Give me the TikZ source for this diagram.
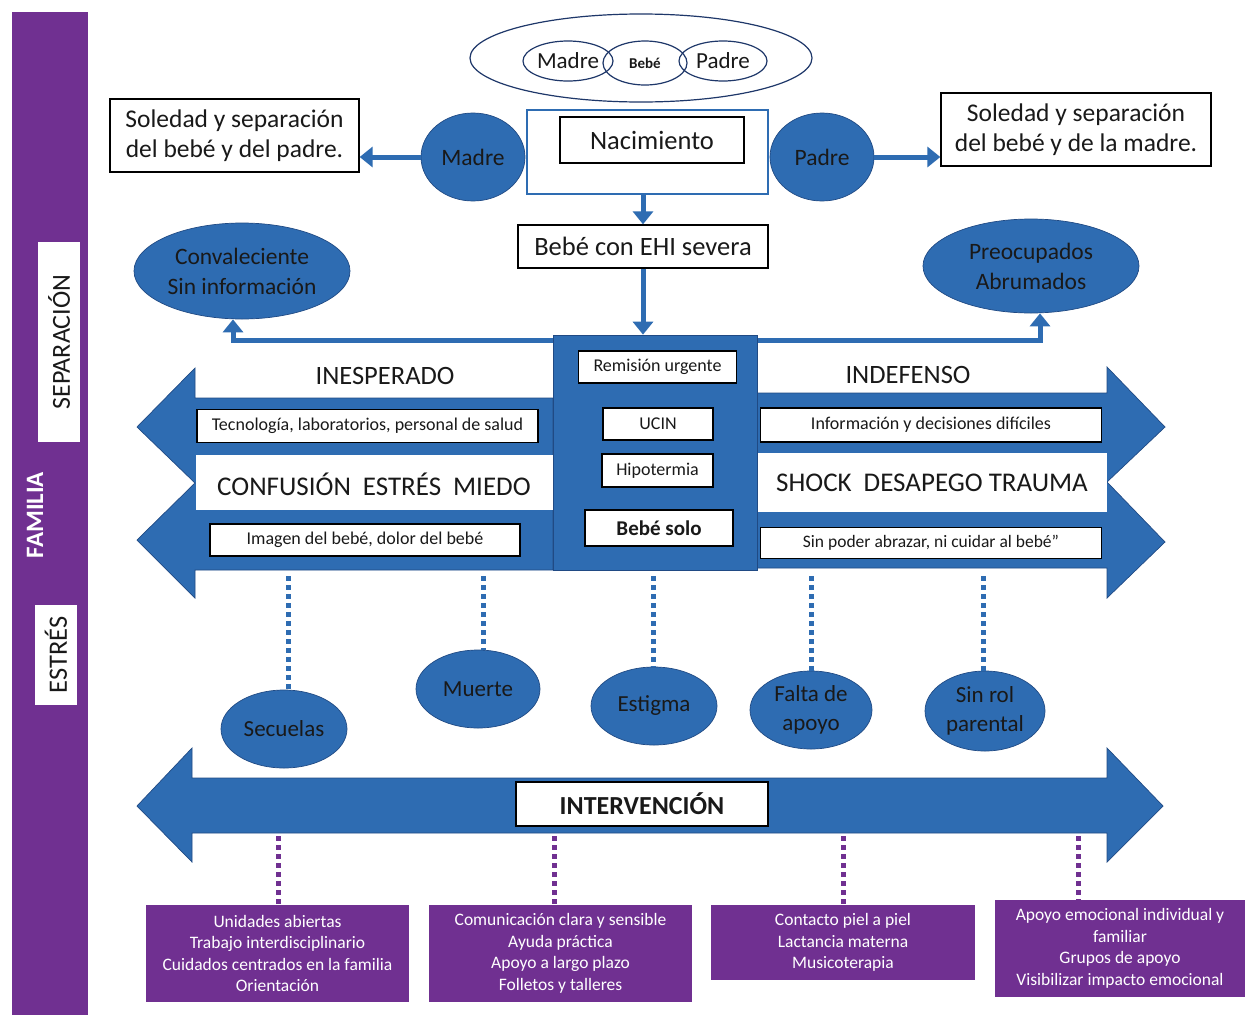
\documentclass[tikz,border=0pt]{standalone}
\usepackage{fontspec}
\setmainfont{Carlito}
\usetikzlibrary{shapes.geometric,arrows.meta}
\definecolor{bl}{RGB}{46,108,178}
\definecolor{bd}{RGB}{32,74,132}
\definecolor{nv}{RGB}{30,55,105}
\definecolor{pu}{RGB}{112,48,145}
\definecolor{tx}{RGB}{25,25,25}
\newcommand{\fs}[2]{\fontsize{#1}{#2}\selectfont}
\tikzset{
  wbox/.style={draw=black, line width=1.3pt, fill=white, text=tx, inner sep=0pt, align=center},
  bell/.style={ellipse, fill=bl, draw=bd, line width=0.7pt, text=tx, align=center, inner sep=0pt},
  oell/.style={ellipse, draw=nv, line width=1.2pt, text=tx, inner sep=0pt},
  barrow/.style={draw=bl, line width=5pt, -{Triangle[length=13pt,width=20pt]}},
  bdots/.style={draw=bl, line width=5pt, dash pattern=on 5pt off 4pt},
  pdots/.style={draw=pu, line width=5pt, dash pattern=on 5pt off 4pt},
  pbox/.style={fill=pu, text=white, align=center, inner sep=0pt, font=\fs{17.5}{21.6}},
  plain/.style={text=tx, inner sep=0pt, align=center},
  blshape/.style={fill=bl, draw=bd, line width=0.7pt}
}
\begin{document}
\begin{tikzpicture}[x=1pt,y=-1pt]
\useasboundingbox[fill=white] (0,0) rectangle (1252,1015);

% left family bar
\node[fill=pu, minimum width=76, minimum height=1003, anchor=north west, inner sep=0pt] (bar) at (12,12) {};
\node[fill=white, rotate=90, minimum width=200, minimum height=42, inner sep=0pt, text=tx, font=\fs{26}{30}] (sep) at (59,342) {SEPARACIÓN};
\node[rotate=90, text=white, font=\bfseries\fs{25}{29}, inner sep=0pt] (famlab) at (35,515) {FAMILIA};
\node[fill=white, rotate=90, minimum width=100, minimum height=42, inner sep=0pt, text=tx, font=\fs{26.5}{30}] (est) at (56,655) {ESTRÉS};

% top family ellipse
\node[oell, minimum width=342, minimum height=88] (fam) at (641,58) {};
\node[oell, minimum width=90, minimum height=40, font=\fs{23}{26}] (emad) at (568,61) {Madre};
\node[oell, minimum width=84, minimum height=44, font=\bfseries\fs{15}{17}] (ebebe) at (645,63) {Bebé};
\node[oell, minimum width=88, minimum height=40, font=\fs{23}{26}] (epad) at (723,61) {Padre};

% birth
\node[draw=bl, line width=1.3pt, fill=white, minimum width=241, minimum height=84, inner sep=0pt] (nacout) at (647.5,152) {};
\node[wbox, minimum width=184, minimum height=46, font=\fs{26.5}{30}] (nac) at (652,140) {Nacimiento};
\node[bell, minimum width=104, minimum height=88, font=\fs{23.5}{27}] (madre) at (473,157) {Madre};
\node[bell, minimum width=104, minimum height=88, font=\fs{23.5}{27}] (padre) at (822,157) {Padre};
\node[wbox, minimum width=249, minimum height=73, font=\fs{25.5}{30}] (sl) at (234.5,135.5) {Soledad y separación\\del bebé y del padre.};
\node[wbox, minimum width=270, minimum height=73, font=\fs{25.5}{30}] (sr) at (1076,129.5) {Soledad y separación\\del bebé y de la madre.};
\draw[barrow] (madre.west) -- (madre.west -| sl.east);
\draw[barrow] (padre.east) -- (padre.east -| sr.west);

\node[wbox, minimum width=250, minimum height=43, font=\fs{26.5}{30}] (bebe) at (643,246.5) {Bebé con EHI severa};
\draw[barrow] (bebe.north |- nacout.south) -- (bebe.north);

% parents state
\node[bell, minimum width=216, minimum height=96, font=\fs{23.5}{30}] (conv) at (242,271) {Convaleciente\\Sin información};
\node[bell, minimum width=216, minimum height=94, font=\fs{23.5}{30}] (preo) at (1031,266) {Preocupados\\Abrumados};
\coordinate (hub) at (643,340);
\draw[barrow] (hub) -| ([xshift=-9pt]conv.south);
\draw[barrow] (hub) -| ([xshift=9pt]preo.south);

% left double arrow
\fill[blshape] (553,398) -- (195,398) -- (195,368) -- (137,427) -- (195,483) -- (137,540) -- (195,598) -- (195,570) -- (553,570) -- cycle;
\fill[white] (195.5,455) rectangle (553,510);
% right double arrow
\fill[blshape] (757,393) -- (1107,393) -- (1107,367) -- (1165,427) -- (1107,482) -- (1165,542) -- (1107,598) -- (1107,568) -- (757,568) -- cycle;
\fill[white] (757,453) rectangle (1106.5,512);

% central box
\node[fill=bl, draw=bd, line width=0.7pt, minimum width=204, minimum height=235, inner sep=0pt] (cbox) at (655,452.5) {};
\draw[barrow] (bebe.south) -- (bebe.south |- cbox.north);
\node[wbox, minimum width=158, minimum height=32, font=\fs{18}{21}] (remi) at (657.5,367) {Remisión urgente};
\node[wbox, minimum width=110, minimum height=32, font=\fs{18}{21}] (ucin) at (658,424) {UCIN};
\node[wbox, minimum width=111, minimum height=33, font=\fs{18}{21}] (hipo) at (657.5,470.5) {Hipotermia};
\node[wbox, minimum width=148, minimum height=36, font=\bfseries\fs{21}{24}] (solo) at (659,528) {Bebé solo};

% left texts
\node[plain, font=\fs{26.5}{30}] (inesp) at (385,376) {INESPERADO};
\node[wbox, minimum width=341, minimum height=33, font=\fs{18}{21}] (tec) at (367.5,426) {Tecnología, laboratorios, personal de salud};
\node[plain, font=\fs{27}{31}] (conf) at (374,484) {CONFUSIÓN\hspace{12pt}ESTRÉS\hspace{12pt}MIEDO};
\node[wbox, minimum width=310, minimum height=32, font=\fs{18}{21}] (imag) at (365,540) {Imagen del bebé, dolor del bebé};
% right texts
\node[plain, font=\fs{26.5}{30}] (indef) at (908,375) {INDEFENSO};
\node[wbox, minimum width=341, minimum height=34, font=\fs{18}{21}] (info) at (931,425) {Información y decisiones difíciles};
\node[plain, font=\fs{27}{31}] (shock) at (932,483) {SHOCK\hspace{12pt}DESAPEGO\hspace{6pt}TRAUMA};
\node[wbox, minimum width=341, minimum height=31, font=\fs{17.5}{21}] (sinp) at (931,543) {Sin poder abrazar, ni cuidar al bebé"};

% consequences
\node[bell, minimum width=126, minimum height=78, font=\fs{23}{27}] (secu) at (284,729) {Secuelas};
\node[bell, minimum width=124, minimum height=78, font=\fs{23}{27}] (muer) at (478,689) {Muerte};
\node[bell, minimum width=126, minimum height=78, font=\fs{23}{27}] (estig) at (654,706) {Estigma};
\node[bell, minimum width=122, minimum height=78, font=\fs{23}{29.5}] (falta) at (811,710) {Falta de\\apoyo};
\node[bell, minimum width=120, minimum height=80, font=\fs{23}{29.5}] (sinrol) at (985,711) {Sin rol\\parental};
\coordinate (d1) at (288,576);
\coordinate (d2) at (483,576);
\coordinate (d3) at (653,576);
\coordinate (d4) at (811,576);
\coordinate (d5) at (983,576);
\draw[bdots] (d1) -- (d1 |- secu.north);
\draw[bdots] (d2) -- (d2 |- muer.north);
\draw[bdots] (d3) -- (d3 |- estig.north);
\draw[bdots] (d4) -- (d4 |- falta.north);
\draw[bdots] (d5) -- (d5 |- sinrol.north);

% intervention arrow
\fill[blshape] (192,778) -- (1107,778) -- (1107,748) -- (1163,806) -- (1107,862) -- (1107,833) -- (192,833) -- (192,862) -- (137,806) -- (192,748) -- cycle;
\node[wbox, minimum width=252, minimum height=44, font=\bfseries\fs{26}{30}] (interv) at (642,804) {INTERVENCIÓN};

% intervention boxes
\node[pbox, minimum width=263, minimum height=97] (p1) at (277.5,953.5) {Unidades abiertas\\Trabajo interdisciplinario\\Cuidados centrados en la familia\\Orientación};
\node[pbox, minimum width=263, minimum height=97] (p2) at (560.5,953.5) {Comunicación clara y sensible\\Ayuda práctica\\Apoyo a largo plazo\\Folletos y talleres};
\node[pbox, minimum width=264, minimum height=75] (p3) at (843,942.5) {Contacto piel a piel\\Lactancia materna\\Musicoterapia};
\node[pbox, minimum width=250, minimum height=97] (p4) at (1120,948.5) {Apoyo emocional individual y\\familiar\\Grupos de apoyo\\Visibilizar impacto emocional};
\coordinate (q1) at (278,836);
\coordinate (q2) at (554,836);
\coordinate (q3) at (843,836);
\coordinate (q4) at (1078,836);
\draw[pdots] (q1) -- (q1 |- p1.north);
\draw[pdots] (q2) -- (q2 |- p2.north);
\draw[pdots] (q3) -- (q3 |- p3.north);
\draw[pdots] (q4) -- (q4 |- p4.north);
\end{tikzpicture}
\end{document}
